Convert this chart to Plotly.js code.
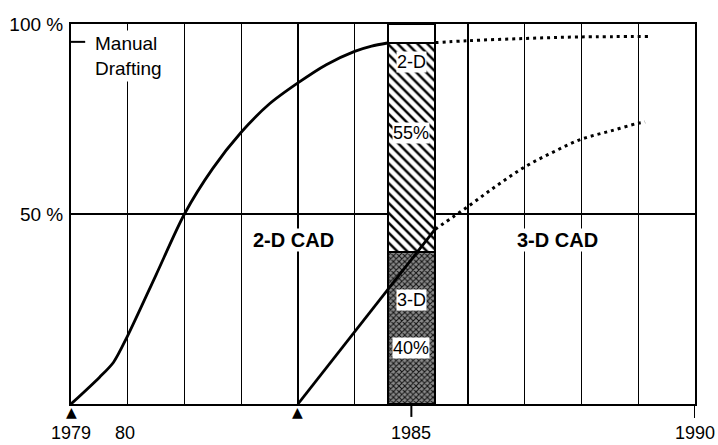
<!DOCTYPE html>
<html>
<head>
<meta charset="utf-8">
<script src="https://cdn.plot.ly/plotly-3.0.1.min.js"></script>
<style>html,body{margin:0;padding:0;background:#fff;}#chart{width:718px;height:445px;}</style>
</head>
<body>
<div id="chart"></div>
<script>
// Boundary between manual drafting (above) and CAD (below), percent of drawings
var manualYears = [1979, 1979.5, 1979.75, 1980, 1980.5, 1981, 1981.5, 1982, 1982.5, 1983, 1983.5, 1984, 1984.3, 1984.58];
var manualShare = [0, 7, 11, 18, 34, 50, 62, 71.5, 79, 84.5, 89.3, 92.8, 94.2, 95];
var manualForecastYears = [1985.42, 1986, 1987, 1988, 1989.2];
var manualForecastShare = [95.1, 95.6, 96.2, 96.6, 96.7];
// Boundary between 3-D CAD (below) and 2-D CAD (above)
var cad3dYears = [1983, 1985.42];
var cad3dShare = [0, 46];
var cad3dForecastYears = [1985.42, 1986, 1986.5, 1987, 1987.5, 1988, 1988.5, 1989, 1989.12];
var cad3dForecastShare = [46, 52, 57.4, 62.4, 66.3, 69.7, 71.8, 73.9, 74.2];
// 1985 split bar
var barYear = [1985];
var bar3d = [40];
var bar2d = [55];
var barManual = [5];
var barLabels3d = ["3-D", "40%"];
var barLabels2d = ["2-D", "55%"];
var barLabelManual = "5 %";
// Markers under the axis (start years)
var startYears = [1979, 1983];
// Axis labels
var xLabelVals = [1979, 1980, 1985, 1990];
var xLabelText = ["1979", "80", "1985", "1990"];
var yLabelVals = [50, 100];
var yLabelText = ["50 %", "100 %"];

var FONT = "Liberation Sans, Arial, Helvetica, sans-serif";

var traces = [
  {type: "bar", x: barYear, y: bar3d, width: 0.83, hoverinfo: "skip",
   marker: {color: "#999", line: {color: "#000", width: 2},
            pattern: {shape: "x", fgcolor: "#111", bgcolor: "#8a8a8a", size: 4, solidity: 0.45}}},
  {type: "bar", x: barYear, y: bar2d, width: 0.83, hoverinfo: "skip",
   marker: {color: "#fff", line: {color: "#000", width: 2},
            pattern: {shape: "\\", fgcolor: "#000", bgcolor: "#fff", size: 7, solidity: 0.35}}},
  {type: "bar", x: barYear, y: barManual, width: 0.83, hoverinfo: "skip",
   marker: {color: "#fff", line: {color: "#000", width: 2}}},
  {type: "scatter", mode: "lines", x: manualYears, y: manualShare,
   line: {color: "#000", width: 2.8, shape: "spline", smoothing: 0.8}},
  {type: "scatter", mode: "lines", x: manualForecastYears, y: manualForecastShare,
   line: {color: "#000", width: 3, dash: "3px,4px", shape: "spline"}},
  {type: "scatter", mode: "lines", x: cad3dYears, y: cad3dShare,
   line: {color: "#000", width: 2.8}},
  {type: "scatter", mode: "lines", x: cad3dForecastYears, y: cad3dForecastShare,
   line: {color: "#000", width: 3, dash: "3px,4px", shape: "spline"}}
];

var annotations = [];
for (var i = 0; i < xLabelVals.length; i++) {
  annotations.push({x: xLabelVals[i] + (i === 1 ? -0.05 : 0), y: 0, xref: "x", yref: "paper",
    yanchor: "middle", yshift: -29, borderpad: 0, text: xLabelText[i], showarrow: false,
    font: {family: FONT, size: 18, color: "#000"}});
}
for (var j = 0; j < startYears.length; j++) {
  annotations.push({x: startYears[j], y: 0, xref: "x", yref: "paper", yanchor: "top", yshift: 1,
    borderpad: 0, text: "\u25B2", showarrow: false, font: {family: "DejaVu Sans", size: 14, color: "#000"}});
}
annotations.push({x: 1979.37, y: 98.4, xref: "x", yref: "y", xanchor: "left", yanchor: "top",
  align: "left", text: "Manual<br>Drafting", showarrow: false, bgcolor: "#fff", borderpad: 2,
  font: {family: FONT, size: 19, color: "#000"}});
annotations.push({x: 1982.92, y: 43.2, text: "<b>2-D CAD</b>", showarrow: false,
  bgcolor: "#fff", borderpad: 0, font: {family: FONT, size: 20, color: "#000"}});
annotations.push({x: 1987.58, y: 43.2, text: "<b>3-D CAD</b>", showarrow: false,
  bgcolor: "#fff", borderpad: 0, font: {family: FONT, size: 20, color: "#000"}});
annotations.push({x: barYear[0], y: 90, text: barLabels2d[0], showarrow: false, bgcolor: "#fff", borderpad: 0,
  font: {family: FONT, size: 18, color: "#000"}});
annotations.push({x: barYear[0], y: 71.3, text: barLabels2d[1], showarrow: false, bgcolor: "#fff", borderpad: 0,
  font: {family: FONT, size: 18, color: "#000"}});
annotations.push({x: barYear[0], y: 27.4, text: barLabels3d[0], showarrow: false, bgcolor: "#fff", borderpad: 0,
  font: {family: FONT, size: 18, color: "#000"}});
annotations.push({x: barYear[0], y: 14.7, text: barLabels3d[1], showarrow: false, bgcolor: "#fff", borderpad: 0,
  font: {family: FONT, size: 18, color: "#000"}});
annotations.push({x: barYear[0], y: 102.6, text: barLabelManual, showarrow: false,
  font: {family: FONT, size: 19, color: "#000"}});

var shapes = [
  {type: "line", xref: "x", yref: "paper", x0: 1985, x1: 1985, y0: 0, y1: -0.034, line: {color: "#000", width: 2}},
  {type: "line", xref: "x", yref: "paper", x0: 1990, x1: 1990, y0: 0, y1: -0.037, line: {color: "#000", width: 2}},
  {type: "line", xref: "x", yref: "y", x0: 1979, x1: 1979.25, y0: 95.3, y1: 95.3, line: {color: "#000", width: 2}}
];

var layout = {
  width: 718, height: 445,
  margin: {l: 71, r: 23, t: 24, b: 41},
  paper_bgcolor: "#fff", plot_bgcolor: "#fff",
  showlegend: false, barmode: "stack", bargap: 0,
  font: {family: FONT, size: 18, color: "#000"},
  xaxis: {range: [1979, 1990], tick0: 1979, dtick: 1, showgrid: true, gridcolor: "#000", gridwidth: 1.3,
          showticklabels: false, ticks: "", zeroline: false,
          showline: true, linecolor: "#000", linewidth: 2, mirror: true, fixedrange: true},
  yaxis: {range: [0, 100], tickmode: "array", tickvals: yLabelVals, ticktext: yLabelText,
          showgrid: true, gridcolor: "#000", gridwidth: 1.3, ticks: "", ticklabelstandoff: 2,
          tickfont: {family: FONT, size: 19, color: "#000"}, zeroline: false,
          showline: true, linecolor: "#000", linewidth: 2, mirror: true, fixedrange: true},
  annotations: annotations,
  shapes: shapes
};

Plotly.newPlot("chart", traces, layout, {staticPlot: true, displayModeBar: false});
</script>
</body>
</html>
